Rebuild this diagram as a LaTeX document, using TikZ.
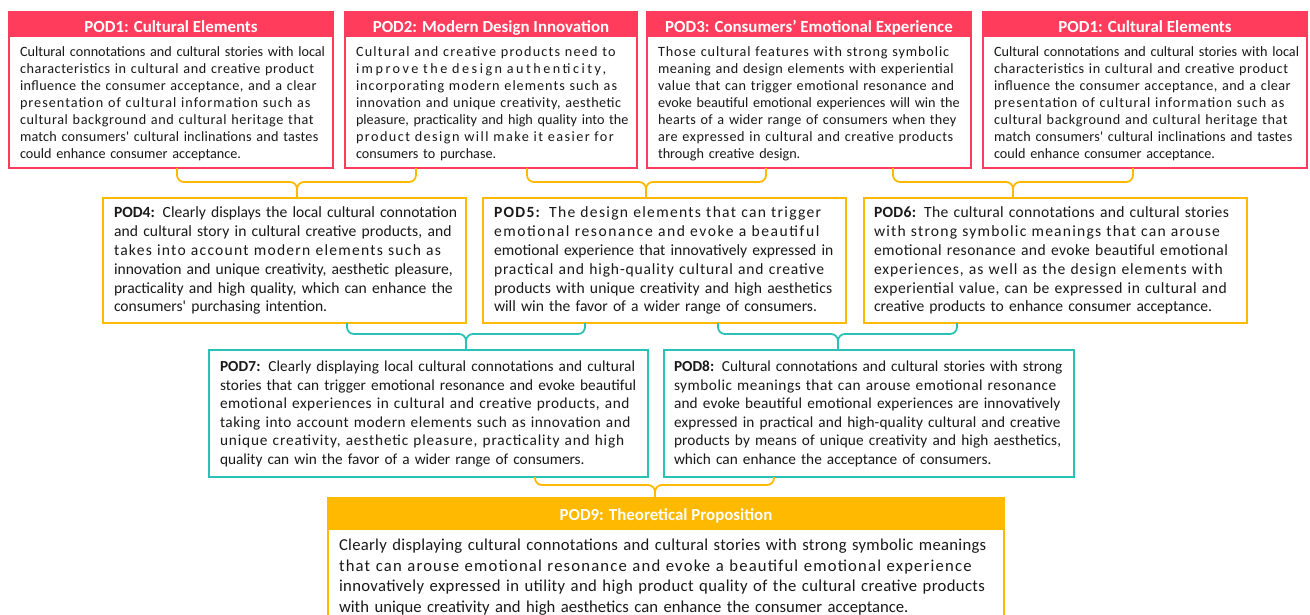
\documentclass[tikz,border=0pt]{standalone}
\usepackage{fontspec}
\defaultfontfeatures[\rmfamily]{}
\setmainfont{Carlito}
\definecolor{podred}{RGB}{255,60,92}
\definecolor{podyel}{RGB}{255,185,0}
\definecolor{podteal}{RGB}{40,195,180}
\definecolor{podtext}{RGB}{25,25,25}
\newsavebox\jlbox
\newcommand\jl[1]{%
  \sbox\jlbox{#1}\edef\jlA{\the\wd\jlbox}%
  \sbox\jlbox{\addfontfeature{LetterSpace=10}#1}\edef\jlB{\the\wd\jlbox}%
  \edef\jlT{\the\hsize}%
  \pgfmathsetmacro\jlls{max(0,min(40,0.75*10*(\jlT-\jlA)/max(0.5,\jlB-\jlA)))}%
  \makebox[\hsize][s]{\addfontfeature{LetterSpace=\jlls}#1}\\}
\tikzset{
  frame/.style={draw, line width=1.5pt, inner sep=0pt, outer sep=0pt, anchor=north west, fill=white},
  hdr/.style={inner sep=0pt, outer sep=0pt, anchor=north west, text=white,
    text height=16.8pt, text depth=0pt,
    font=\fontsize{16.9}{19}\selectfont\bfseries},
  body/.style={inner sep=0pt, outer sep=0pt, anchor=base west, align=left, text=podtext},
  f1/.style={font=\fontsize{14.2}{17.0}\selectfont},
  f2/.style={font=\fontsize{15.6}{18.8}\selectfont},
  f3/.style={font=\fontsize{15.3}{18.5}\selectfont},
  f4/.style={font=\fontsize{16.65}{20.6}\selectfont},
  brace/.style={line width=1.8pt, rounded corners=7pt}
}
\begin{document}
\begin{tikzpicture}[x=1pt,y=-1pt]
\useasboundingbox (0,0) rectangle (1310,615);
\clip (0,0) rectangle (1310,615);
% ---------- row 1 ----------
\node[frame, draw=podred, minimum width=324pt, minimum height=156pt] (p1) at (9,12) {};
\node[hdr, fill=podred, minimum width=324pt, minimum height=25pt] (h1) at (p1.north west) {POD1: Cultural Elements};
\node[body, f1, text width=301pt] (t1) at (20,56.5) {%
\jl{Cultural connotations and cultural stories with local}
\jl{characteristics in cultural and creative product}
\jl{influence the consumer acceptance, and a clear}
\jl{presentation of cultural information such as}
\jl{cultural background and cultural heritage that}
\jl{match consumers' cultural inclinations and tastes}
could enhance consumer acceptance.};

\node[frame, draw=podred, minimum width=292pt, minimum height=156pt] (p2) at (345,12) {};
\node[hdr, fill=podred, minimum width=292pt, minimum height=25pt] (h2) at (p2.north west) {POD2: Modern Design Innovation};
\node[body, f1, text width=270pt] (t2) at (356,56.5) {%
\jl{Cultural and creative products need to}
\jl{improve the design authenticity,}
\jl{incorporating modern elements such as}
\jl{innovation and unique creativity, aesthetic}
\jl{pleasure, practicality and high quality into the}
\jl{product design will make it easier for}
consumers to purchase.};

\node[frame, draw=podred, minimum width=324pt, minimum height=156pt] (p3) at (647,12) {};
\node[hdr, fill=podred, minimum width=324pt, minimum height=25pt] (h3) at (p3.north west) {POD3: Consumers’ Emotional Experience};
\node[body, f1, text width=301pt] (t3) at (658,56.5) {%
\jl{Those cultural features with strong symbolic}
\jl{meaning and design elements with experiential}
\jl{value that can trigger emotional resonance and}
\jl{evoke beautiful emotional experiences will win the}
\jl{hearts of a wider range of consumers when they}
\jl{are expressed in cultural and creative products}
through creative design.};

\node[frame, draw=podred, minimum width=324pt, minimum height=156pt] (p1b) at (983,12) {};
\node[hdr, fill=podred, minimum width=324pt, minimum height=25pt] (h1b) at (p1b.north west) {POD1: Cultural Elements};
\node[body, f1, text width=301pt] (t1b) at (994,56.5) {%
\jl{Cultural connotations and cultural stories with local}
\jl{characteristics in cultural and creative product}
\jl{influence the consumer acceptance, and a clear}
\jl{presentation of cultural information such as}
\jl{cultural background and cultural heritage that}
\jl{match consumers' cultural inclinations and tastes}
could enhance consumer acceptance.};

% ---------- row 2 ----------
\node[frame, draw=podyel, minimum width=363pt, minimum height=125pt] (p4) at (103,198) {};
\node[body, f2, text width=339pt] (t4) at (114,218) {%
\jl{\textbf{POD4:} Clearly displays the local cultural connotation}
\jl{and cultural story in cultural creative products, and}
\jl{takes into account modern elements such as}
\jl{innovation and unique creativity, aesthetic pleasure,}
\jl{practicality and high quality, which can enhance the}
consumers' purchasing intention.};

\node[frame, draw=podyel, minimum width=363pt, minimum height=125pt] (p5) at (483,198) {};
\node[body, f2, text width=340pt] (t5) at (494,218) {%
\jl{\textbf{POD5:} The design elements that can trigger}
\jl{emotional resonance and evoke a beautiful}
\jl{emotional experience that innovatively expressed in}
\jl{practical and high-quality cultural and creative}
\jl{products with unique creativity and high aesthetics}
will win the favor of a wider range of consumers.};

\node[frame, draw=podyel, minimum width=383pt, minimum height=125pt] (p6) at (864,198) {};
\node[body, f2, text width=359pt] (t6) at (874,218) {%
\jl{\textbf{POD6:} The cultural connotations and cultural stories}
\jl{with strong symbolic meanings that can arouse}
\jl{emotional resonance and evoke beautiful emotional}
\jl{experiences, as well as the design elements with}
\jl{experiential value, can be expressed in cultural and}
creative products to enhance consumer acceptance.};

% ---------- row 3 ----------
\node[frame, draw=podteal, minimum width=439pt, minimum height=127pt] (p7) at (209,350) {};
\node[body, f3, text width=417pt] (t7) at (220,371.5) {%
\jl{\textbf{POD7:} Clearly displaying local cultural connotations and cultural}
\jl{stories that can trigger emotional resonance and evoke beautiful}
\jl{emotional experiences in cultural and creative products, and}
\jl{taking into account modern elements such as innovation and}
\jl{unique creativity, aesthetic pleasure, practicality and high}
quality can win the favor of a wider range of consumers.};

\node[frame, draw=podteal, minimum width=410pt, minimum height=127pt] (p8) at (664,350) {};
\node[body, f3, text width=389pt] (t8) at (674,371.5) {%
\jl{\textbf{POD8:} Cultural connotations and cultural stories with strong}
\jl{symbolic meanings that can arouse emotional resonance}
\jl{and evoke beautiful emotional experiences are innovatively}
\jl{expressed in practical and high-quality cultural and creative}
\jl{products by means of unique creativity and high aesthetics,}
which can enhance the acceptance of consumers.};

% ---------- row 4 ----------
\node[frame, draw=podyel, minimum width=676pt, minimum height=150pt] (p9) at (328,498) {};
\node[hdr, fill=podyel, minimum width=676pt, minimum height=32pt, text height=12.8pt] (h9) at (p9.north west) {POD9: Theoretical Proposition};
\node[body, f4, text width=654pt] (t9) at (339,550.5) {%
\jl{Clearly displaying cultural connotations and cultural stories with strong symbolic meanings}
\jl{that can arouse emotional resonance and evoke a beautiful emotional experience}
\jl{innovatively expressed in utility and high product quality of the cultural creative products}
with unique creativity and high aesthetics can enhance the consumer acceptance.};

% ---------- braces ----------
\draw[brace, podyel] (177,0 |- p1.south) |- (297,182) -- (297,0 |- p4.north);
\draw[brace, podyel] (416,0 |- p2.south) |- (297,182) -- (297,0 |- p4.north);
\draw[brace, podyel] (527,0 |- p2.south) |- (646,182) -- (646,0 |- p5.north);
\draw[brace, podyel] (766,0 |- p3.south) |- (646,182) -- (646,0 |- p5.north);
\draw[brace, podyel] (893,0 |- p3.south) |- (1013,182) -- (1013,0 |- p6.north);
\draw[brace, podyel] (1133,0 |- p1b.south) |- (1013,182) -- (1013,0 |- p6.north);

\draw[brace, podteal] (347,0 |- p4.south) |- (466,334) -- (466,0 |- p7.north);
\draw[brace, podteal] (585,0 |- p5.south) |- (466,334) -- (466,0 |- p7.north);
\draw[brace, podteal] (718,0 |- p5.south) |- (838,334) -- (838,0 |- p8.north);
\draw[brace, podteal] (957,0 |- p6.south) |- (838,334) -- (838,0 |- p8.north);

\draw[brace, podyel] (535,0 |- p7.south) |- (655,485) -- (655,0 |- p9.north);
\draw[brace, podyel] (774,0 |- p8.south) |- (655,485) -- (655,0 |- p9.north);
\end{tikzpicture}
\end{document}
